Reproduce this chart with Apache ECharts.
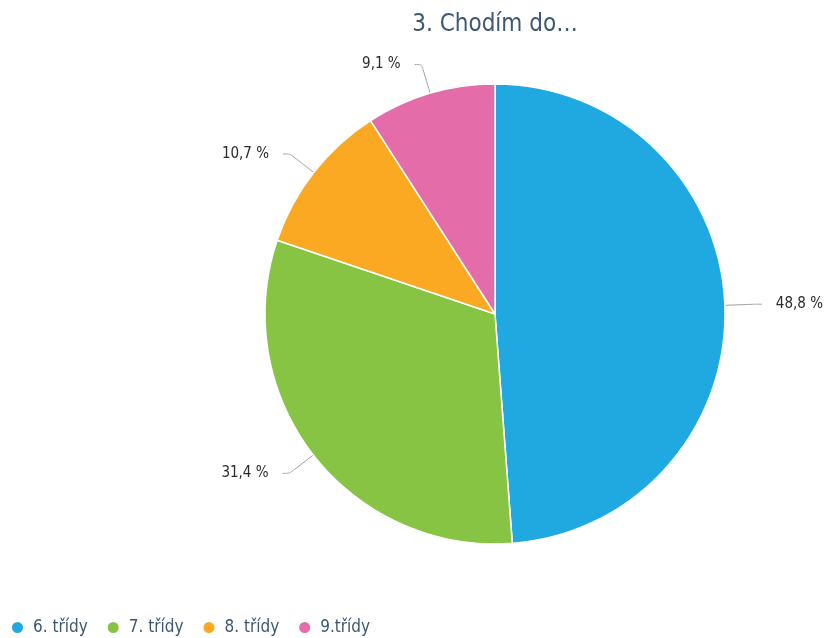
<!DOCTYPE html>
<html>
<head>
<meta charset="utf-8">
<style>
  html, body { margin: 0; padding: 0; background: #fff; }
  #chart { width: 827px; height: 638px; }
</style>
<script src="https://cdn.jsdelivr.net/npm/echarts@6/dist/echarts.min.js"></script>
</head>
<body>
<div id="chart"></div>
<script>
// Share of respondents by school grade
const categories = ['6. třídy', '7. třídy', '8. třídy', '9.třídy'];
const shares = [48.8, 31.4, 10.7, 9.1];
const colors = ['#1fa9e0', '#88c444', '#fba823', '#e46ca9'];

const chart = echarts.init(document.getElementById('chart'), null, { renderer: 'canvas' });

chart.setOption({
  animation: false,
  color: colors,
  title: {
    text: '3. Chodím do…',
    left: 490,
    textAlign: 'center',
    top: 8,
    textStyle: {
      fontFamily: 'DejaVu Sans Condensed',
      fontSize: 24,
      fontWeight: 'normal',
      color: '#3d5671'
    }
  },
  legend: {
    left: 10,
    bottom: 2,
    padding: 0,
    itemWidth: 13,
    itemHeight: 13,
    itemGap: 18,
    icon: 'circle',
    textStyle: {
      fontFamily: 'DejaVu Sans Condensed',
      fontSize: 17,
      color: '#3d5671',
      padding: [0, 0, 0, 4]
    },
    data: categories
  },
  series: [{
    type: 'pie',
    center: [495, 314],
    radius: [0, 230],
    startAngle: 90,
    clockwise: true,
    itemStyle: { borderColor: '#ffffff', borderWidth: 1.5 },
    label: {
      show: true,
      formatter: p => p.value.toFixed(1).replace('.', ',') + ' %',
      fontFamily: 'DejaVu Sans Condensed',
      fontSize: 15,
      color: '#2a2a2a',
      overflow: 'none',
      distanceToLabelLine: 14
    },
    labelLine: {
      show: true,
      length: 30,
      length2: 7,
      smooth: 0.25,
      lineStyle: { color: '#a0a0a0', width: 1 }
    },
    data: categories.map((name, i) => ({ name, value: shares[i] }))
  }]
});
</script>
</body>
</html>
